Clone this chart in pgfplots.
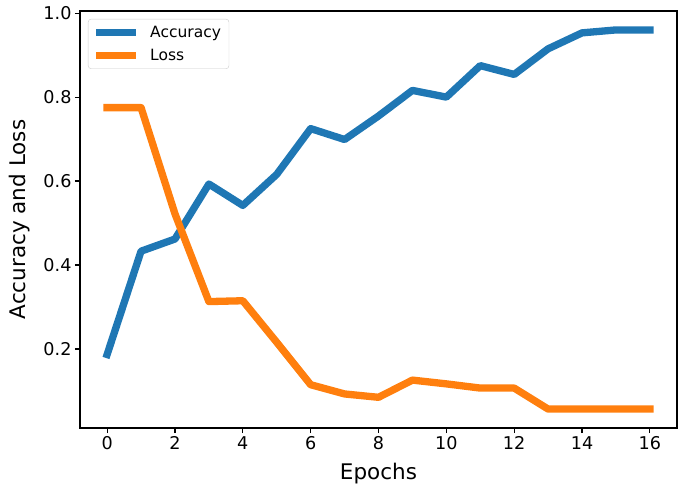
\documentclass[border=0pt]{standalone}
\usepackage{pgfplots}
\pgfplotsset{compat=1.18}
\usepackage{fontspec}
\setmainfont{DejaVu Sans}
\definecolor{mplblue}{HTML}{1F77B4}
\definecolor{mplorange}{HTML}{FF7F0E}
\begin{document}
\begin{tikzpicture}
\useasboundingbox (-80pt,-65pt) rectangle (605pt,428pt);
\begin{axis}[
  at={(0pt,0pt)}, anchor=south west,
  scale only axis, width=597pt, height=417pt,
  xmin=-0.8, xmax=16.8, ymin=0.0119, ymax=1.0051,
  xtick={0,2,...,16}, ytick={0.2,0.4,0.6,0.8,1.0},
  yticklabel style={/pgf/number format/fixed, /pgf/number format/fixed zerofill, /pgf/number format/precision=1},
  /pgf/number format/assume math mode=true,
  tick label style={font=\fontsize{17.6}{21}\selectfont},
  tick align=outside, major tick length=5pt,
  tick style={line width=1.2pt, black},
  axis line style={line width=1.2pt},
  xtick pos=bottom, ytick pos=left,
  xlabel={Epochs}, ylabel={Accuracy and Loss},
  label style={font=\fontsize{21.5}{25}\selectfont},
  xlabel style={at={(axis description cs:0.5,-0.124)}, anchor=base},
  ylabel style={at={(axis description cs:-0.092,0.5)}, anchor=base},
  legend style={at={(0.0134,0.981)}, anchor=north west, draw=black!20, rounded corners=3pt,
    fill=white, fill opacity=0.8, text opacity=1, font=\fontsize{15.5}{18}\selectfont,
    inner xsep=8pt, inner ysep=7pt, column sep=13.7pt, row sep=10pt,
    nodes={inner sep=0pt}},
  legend cell align=left,
  legend image code/.code={\draw[#1, line cap=rect] (0pt,0pt) -- (33pt,0pt);},
]
\addplot[mplblue, line width=7.3pt, line join=round, line cap=rect] coordinates {
(0,0.187) (1,0.433) (2,0.462) (3,0.593) (4,0.542) (5,0.616) (6,0.725) (7,0.699)
(8,0.755) (9,0.816) (10,0.800) (11,0.875) (12,0.854) (13,0.915) (14,0.953) (15,0.960) (16,0.960)};
\addlegendentry{Accuracy}
\addplot[mplorange, line width=7.3pt, line join=round, line cap=rect] coordinates {
(0,0.775) (1,0.775) (2,0.522) (3,0.313) (4,0.315) (5,0.216) (6,0.115) (7,0.093)
(8,0.085) (9,0.126) (10,0.117) (11,0.107) (12,0.107) (13,0.057) (14,0.057) (15,0.057) (16,0.057)};
\addlegendentry{Loss}
\end{axis}
\end{tikzpicture}
\end{document}
